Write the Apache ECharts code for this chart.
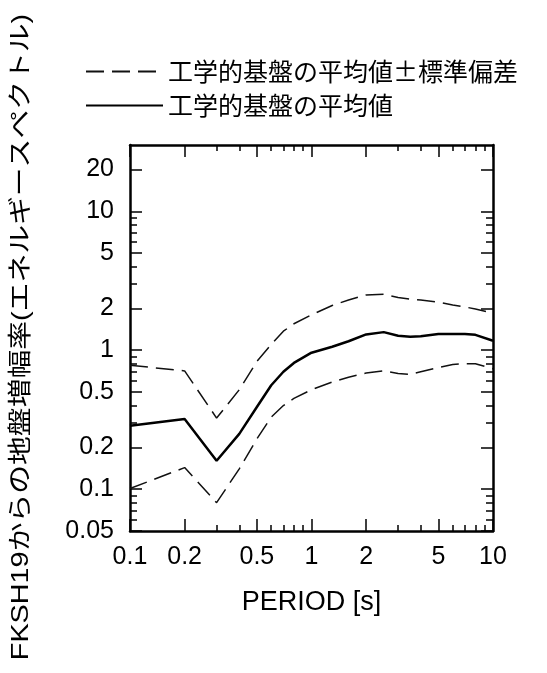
<!DOCTYPE html>
<html>
<head>
<meta charset="utf-8">
<script src="https://cdn.jsdelivr.net/npm/echarts@6/dist/echarts.min.js"></script>
<style>
html,body{margin:0;padding:0;background:#fff;}
#chart{width:547px;height:673px;}
</style>
</head>
<body>
<div id="chart"></div>
<script>
// Period [s]
const periods  = [0.1, 0.2, 0.3, 0.4, 0.5, 0.6, 0.7, 0.8, 1.0, 1.3, 1.6, 2.0, 2.5, 3.0, 3.5, 4.0, 5.0, 6.0, 7.0, 8.0, 10.0];
// mean amplification
const meanAmp  = [0.286, 0.32, 0.16, 0.25, 0.39, 0.56, 0.70, 0.81, 0.96, 1.06, 1.16, 1.30, 1.35, 1.27, 1.25, 1.26, 1.31, 1.31, 1.31, 1.29, 1.17];
// mean + std
const upperAmp = [0.78, 0.71, 0.325, 0.52, 0.83, 1.10, 1.37, 1.55, 1.80, 2.10, 2.30, 2.50, 2.53, 2.40, 2.33, 2.30, 2.22, 2.12, 2.05, 1.98, 1.85];
// mean - std
const lowerAmp = [0.101, 0.143, 0.080, 0.14, 0.23, 0.33, 0.40, 0.45, 0.52, 0.59, 0.64, 0.685, 0.71, 0.68, 0.67, 0.70, 0.75, 0.79, 0.80, 0.80, 0.735];

const xTickValues  = [0.1, 0.2, 0.5, 1, 2, 5, 10];
const xMinorTicks  = [0.3, 0.4, 0.6, 0.7, 0.8, 0.9, 3, 4, 6, 7, 8, 9];
const yTickValues  = [0.05, 0.1, 0.2, 0.5, 1, 2, 5, 10, 20];
const yMinorTicks  = [0.06, 0.07, 0.08, 0.09, 0.3, 0.4, 0.6, 0.7, 0.8, 0.9, 3, 4, 6, 7, 8, 9];

const seriesNameSD   = '工学的基盤の平均値±標準偏差';
const seriesNameMean = '工学的基盤の平均値';
const yTitle = 'FKSH19からの地盤増幅率(エネルギースペクトル)';
const xTitle = 'PERIOD [s]';

const FONT = '"Liberation Sans", "Noto Sans CJK JP", sans-serif';
const CJK  = '"Noto Sans CJK JP", "Liberation Sans", sans-serif';

function pairs(xs, ys) { return xs.map((x, i) => [x, ys[i]]); }

function xAx(pos, ticks, len, showLine, showLabel) {
  return {
    type: 'log', logBase: 10, min: 0.1, max: 10, position: pos,
    axisLine: { show: showLine, onZero: false, lineStyle: { color: '#000', width: 2.5 } },
    axisTick: { show: true, inside: true, length: len, customValues: ticks, lineStyle: { color: '#000', width: 1.5 } },
    axisLabel: showLabel ? { show: true, customValues: ticks, fontSize: 25, color: '#000', fontFamily: FONT, margin: 14 } : { show: false },
    splitLine: { show: false },
    minorTick: { show: false }
  };
}
function yAx(pos, ticks, len, showLine, showLabel) {
  return {
    type: 'log', logBase: 10, min: 0.05, max: 30, position: pos,
    axisLine: { show: showLine, onZero: false, lineStyle: { color: '#000', width: 2.5 } },
    axisTick: { show: true, inside: true, length: len, customValues: ticks, lineStyle: { color: '#000', width: 1.5 } },
    axisLabel: showLabel ? { show: true, customValues: ticks, fontSize: 25, color: '#000', fontFamily: FONT, margin: 16 } : { show: false },
    splitLine: { show: false },
    minorTick: { show: false }
  };
}

const xAxes = [
  Object.assign(xAx('bottom', xTickValues, 12, true, true), {
    name: xTitle, nameLocation: 'middle', nameGap: 58,
    nameTextStyle: { fontSize: 27, color: '#000', fontFamily: FONT }
  }),
  xAx('bottom', xMinorTicks, 6, false, false),
  xAx('top', xTickValues, 12, true, false),
  xAx('top', xMinorTicks, 6, false, false)
];
const yAxes = [
  yAx('left', yTickValues, 12, true, true),
  yAx('left', yMinorTicks, 7, false, false),
  yAx('right', yTickValues, 12, true, false),
  yAx('right', yMinorTicks, 7, false, false)
];

const chart = echarts.init(document.getElementById('chart'), null, { renderer: 'canvas' });
chart.setOption({
  backgroundColor: '#fff',
  animation: false,
  grid: { left: 130, top: 145, right: 54, bottom: 142 },
  legend: {
    orient: 'vertical', left: 80, top: 54, itemGap: 9,
    itemWidth: 77, itemHeight: 14,
    data: [seriesNameSD, seriesNameMean],
    itemStyle: { opacity: 0, borderWidth: 0 },
    textStyle: { fontSize: 25, color: '#000', fontFamily: CJK }
  },
  xAxis: xAxes,
  yAxis: yAxes,
  graphic: [{
    type: 'text', x: 21, y: 337, rotation: Math.PI / 2, scaleX: 1.2,
    style: { text: yTitle, fontSize: 24, fill: '#000', fontFamily: FONT, textAlign: 'center', textVerticalAlign: 'middle' }
  }],
  series: [
    { name: seriesNameSD, type: 'line', xAxisIndex: 0, yAxisIndex: 0, symbol: 'none',
      data: pairs(periods, upperAmp), lineStyle: { color: '#111', width: 1.5, type: [18, 8] }, itemStyle: { color: '#111' } },
    { name: seriesNameSD, type: 'line', xAxisIndex: 0, yAxisIndex: 0, symbol: 'none',
      data: pairs(periods, lowerAmp), lineStyle: { color: '#111', width: 1.5, type: [18, 8] }, itemStyle: { color: '#111' } },
    { name: seriesNameMean, type: 'line', xAxisIndex: 0, yAxisIndex: 0, symbol: 'none',
      data: pairs(periods, meanAmp), lineStyle: { color: '#000', width: 2.5 }, itemStyle: { color: '#000' } }
  ]
});
</script>
</body>
</html>
